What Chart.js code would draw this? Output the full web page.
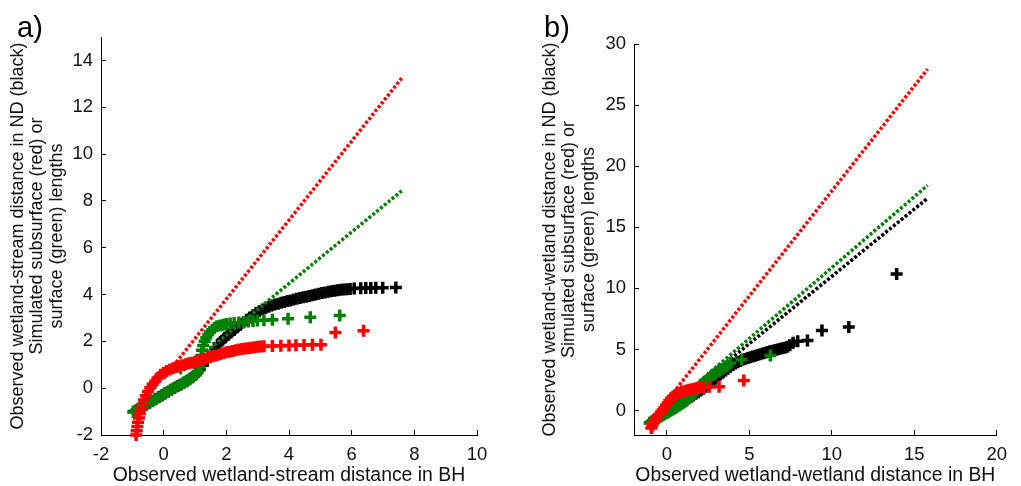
<!DOCTYPE html>
<html>
<head>
<meta charset="utf-8">
<script src="https://cdn.jsdelivr.net/npm/chart.js@4.4.1/dist/chart.umd.min.js"></script>
<style>
  body { margin: 0; background: #fff; }
  #wrap { position: relative; width: 1021px; height: 486px; font-family: "Liberation Sans", Arial, sans-serif; }
  canvas { position: absolute; top: 0; }
  #qqA { left: 0; }
  #qqB { left: 510px; }
  .tag { position: absolute; top: 12px; font-size: 29px; line-height: 30px; color: #000; }
</style>
</head>
<body>
<div id="wrap">
  <canvas id="qqA" width="510" height="486"></canvas>
  <canvas id="qqB" width="511" height="486"></canvas>
  <div class="tag" style="left:17px">a)</div>
  <div class="tag" style="left:544px">b)</div>
</div>
<script>
// ---- a) wetland-stream distances: BH quantiles (x) vs ND / simulated quantiles (y)
const aBlackX = [-0.95, -0.85, -0.75, -0.65, -0.55, -0.45, -0.35, -0.25, -0.15, -0.05,
  0.05, 0.15, 0.25, 0.35, 0.45, 0.55, 0.65, 0.75, 0.85, 0.95,
  1.05, 1.15, 1.25, 1.35, 1.45, 1.55, 1.65, 1.75, 1.85, 1.95,
  2.05, 2.15, 2.25, 2.35, 2.45, 2.55, 2.65, 2.75, 2.85, 2.95,
  3.05, 3.15, 3.25, 3.35, 3.45, 3.55, 3.65, 3.75, 3.85, 3.95,
  4.05, 4.15, 4.25, 4.35, 4.45, 4.55, 4.65, 4.75, 4.85, 4.95,
  5.05, 5.15, 5.25, 5.35, 5.45, 5.55, 5.65, 5.75, 5.85, 5.95,
  6.08, 6.29, 6.45, 6.61, 6.77, 6.99, 7.41];
const aBlackY = [-1.0, -0.93, -0.85, -0.78, -0.7, -0.62, -0.54, -0.46, -0.38, -0.3,
  -0.22, -0.14, -0.06, 0.02, 0.09, 0.16, 0.24, 0.32, 0.41, 0.51,
  0.64, 0.8, 0.98, 1.16, 1.34, 1.52, 1.71, 1.9, 2.03, 2.15,
  2.27, 2.38, 2.49, 2.6, 2.71, 2.82, 2.92, 3.02, 3.12, 3.21,
  3.29, 3.36, 3.42, 3.48, 3.53, 3.57, 3.61, 3.65, 3.68, 3.72,
  3.75, 3.79, 3.82, 3.85, 3.88, 3.91, 3.94, 3.97, 4.0, 4.03,
  4.06, 4.09, 4.12, 4.14, 4.16, 4.18, 4.2, 4.22, 4.23, 4.24,
  4.26, 4.27, 4.28, 4.28, 4.29, 4.29, 4.3];

const aGreenX = [-0.97, -0.88, -0.78, -0.68, -0.58, -0.48, -0.38, -0.28, -0.18, -0.08,
  0.02, 0.12, 0.22, 0.32, 0.42, 0.52, 0.62, 0.72, 0.82, 0.92,
  1.02, 1.1, 1.15, 1.18, 1.2, 1.22, 1.26, 1.31, 1.36, 1.42,
  1.48, 1.55, 1.62, 1.7, 1.8, 1.9, 2.0, 2.12, 2.25, 2.4,
  2.55, 2.7, 2.85, 2.99, 3.2, 3.47, 3.97, 4.68, 5.62];
const aGreenY = [-1.02, -0.95, -0.87, -0.8, -0.72, -0.64, -0.56, -0.48, -0.4, -0.32,
  -0.24, -0.16, -0.08, 0.0, 0.07, 0.14, 0.21, 0.29, 0.37, 0.46,
  0.56, 0.7, 0.9, 1.15, 1.4, 1.62, 1.82, 2.0, 2.15, 2.28,
  2.4, 2.5, 2.58, 2.64, 2.68, 2.71, 2.74, 2.76, 2.78, 2.81,
  2.83, 2.85, 2.87, 2.89, 2.9, 2.92, 2.97, 3.03, 3.1];

const aRedX = [-0.88, -0.86, -0.84, -0.82, -0.79, -0.76, -0.72, -0.68, -0.63, -0.57,
  -0.5, -0.43, -0.35, -0.27, -0.19, -0.1, 0, 0.1, 0.2,
  0.3, 0.4, 0.5, 0.6, 0.7, 0.8, 0.9, 1.0, 1.1, 1.2,
  1.3, 1.4, 1.5, 1.6, 1.7, 1.8, 1.9, 2.0, 2.1, 2.2,
  2.3, 2.4, 2.5, 2.6, 2.7, 2.8, 2.9, 3.0, 3.1,
  3.2, 3.47, 3.74, 4.0, 4.22, 4.48, 4.75, 5.02, 5.48, 6.38];
const aRedY = [-2.0, -1.82, -1.64, -1.46, -1.27, -1.08, -0.89, -0.7, -0.5, -0.32,
  -0.14, 0.02, 0.17, 0.3, 0.44, 0.57, 0.66, 0.73, 0.8,
  0.85, 0.9, 0.94, 0.98, 1.02, 1.06, 1.09, 1.13, 1.17, 1.21,
  1.25, 1.29, 1.33, 1.37, 1.41, 1.45, 1.49, 1.53, 1.56, 1.59,
  1.62, 1.65, 1.67, 1.69, 1.71, 1.73, 1.75, 1.77, 1.78,
  1.79, 1.8, 1.81, 1.82, 1.83, 1.84, 1.85, 1.86, 2.38, 2.45];

// fitted reference lines (end points)
const aRedLineX = [0, 7.6];
const aRedLineY = [0.43, 13.25];
const aGreenLineX = [0.5, 7.6];
const aGreenLineY = [0.62, 8.43];

const aTicksX = [-2, 0, 2, 4, 6, 8, 10];
const aTicksY = [-2, 0, 2, 4, 6, 8, 10, 12, 14];

// ---- b) wetland-wetland distances
const bBlackX = [-1.0, -0.9, -0.8, -0.7, -0.6, -0.5, -0.4, -0.3, -0.2, -0.1,
  0.0, 0.1, 0.2, 0.3, 0.4, 0.5, 0.6, 0.7, 0.8, 0.9,
  1.0, 1.15, 1.3, 1.45, 1.6, 1.75, 1.9, 2.05, 2.2, 2.35,
  2.5, 2.65, 2.8, 2.95, 3.1, 3.25, 3.4, 3.55, 3.7, 3.85,
  4.0, 4.15, 4.3, 4.45, 4.6, 4.75, 4.9, 5.05, 5.2, 5.35,
  5.5, 5.65, 5.8, 5.95, 6.1, 6.25, 6.4, 6.55, 6.7, 6.85,
  7.0, 7.15, 7.3, 7.45, 7.65, 7.93, 8.52, 9.4, 11.03, 13.93];
const bBlackY = [-1.0, -0.9, -0.8, -0.7, -0.6, -0.5, -0.4, -0.3, -0.2, -0.12,
  -0.04, 0.04, 0.12, 0.2, 0.28, 0.36, 0.44, 0.52, 0.6, 0.68,
  0.76, 0.88, 1.0, 1.12, 1.24, 1.37, 1.5, 1.64, 1.79, 1.95,
  2.11, 2.28, 2.45, 2.62, 2.79, 2.96, 3.12, 3.28, 3.43, 3.58,
  3.72, 3.85, 3.96, 4.06, 4.15, 4.23, 4.3, 4.37, 4.43, 4.49,
  4.55, 4.61, 4.67, 4.73, 4.79, 4.85, 4.9, 4.95, 5.0, 5.05,
  5.1, 5.15, 5.22, 5.35, 5.55, 5.68, 5.74, 6.55, 6.83, 11.18];

const bGreenX = [-1.05, -0.95, -0.85, -0.75, -0.65, -0.55, -0.45, -0.35, -0.25, -0.15,
  -0.05, 0.05, 0.15, 0.25, 0.35, 0.45, 0.55, 0.65, 0.75, 0.85,
  0.95, 1.05, 1.15, 1.25, 1.35, 1.45, 1.55, 1.65, 1.75, 1.85,
  1.95, 2.05, 2.15, 2.25, 2.35, 2.45, 2.55, 2.65, 2.75, 2.85,
  2.95, 3.05, 3.15, 3.25, 3.35, 3.5, 3.65, 3.84, 4.52, 6.27];
const bGreenY = [-1.02, -0.94, -0.86, -0.78, -0.7, -0.62, -0.54, -0.46, -0.38, -0.3,
  -0.22, -0.15, -0.08, 0.0, 0.08, 0.16, 0.24, 0.33, 0.42, 0.51,
  0.6, 0.69, 0.79, 0.9, 1.02, 1.15, 1.29, 1.43, 1.58, 1.74,
  1.9, 2.04, 2.17, 2.3, 2.42, 2.54, 2.66, 2.77, 2.88, 2.98,
  3.08, 3.17, 3.26, 3.34, 3.42, 3.52, 3.64, 3.9, 4.18, 4.51];

const bRedX = [-0.95, -0.88, -0.8, -0.72, -0.64, -0.55, -0.46, -0.36, -0.26, -0.16,
  -0.06, 0.04, 0.14, 0.25, 0.36, 0.48, 0.6, 0.74, 0.88, 1.02,
  1.18, 1.34, 1.5, 1.68, 1.86, 2.05, 2.25, 2.57, 3.16, 4.66];
const bRedY = [-1.42, -1.2, -0.98, -0.8, -0.62, -0.45, -0.3, -0.12, 0.05, 0.22,
  0.43, 0.62, 0.82, 1.0, 1.13, 1.26, 1.36, 1.45, 1.52, 1.58,
  1.64, 1.7, 1.75, 1.8, 1.85, 1.88, 1.91, 1.94, 1.95, 2.47];

const bRedLineX = [0, 15.81];
const bRedLineY = [0.8, 27.95];
const bGreenLineX = [1.5, 15.81];
const bGreenLineY = [1.84, 18.44];
const bBlackLineX = [1.5, 15.81];
const bBlackLineY = [1.63, 17.38];

const bTicksX = [0, 5, 10, 15, 20];
const bTicksY = [0, 5, 10, 15, 20, 25, 30];

const FONT = '"Liberation Sans", Arial, sans-serif';
const RED = '#ff0000', GREEN = '#008000', BLACK = '#000000';

const pts = (xs, ys) => xs.map((x, i) => ({ x: x, y: ys[i] }));

// plus-sign markers for the quantile pairs
function marks(xs, ys, color, order) {
  return {
    data: pts(xs, ys), order: order, clip: false,
    pointStyle: 'cross', pointRadius: 6, pointHoverRadius: 6,
    pointBorderWidth: 3.5, pointHoverBorderWidth: 3.5,
    borderColor: color, backgroundColor: color
  };
}

// dotted straight line through two end points
function refLine(xs, ys, color, order) {
  return {
    data: pts(xs, ys), order: order, showLine: true,
    borderColor: color, borderWidth: 3.5, borderDash: [3, 2],
    pointRadius: 0, pointHoverRadius: 0
  };
}

function qqChart(id, o) {
  const tickFont = { family: FONT, size: 18.5 };
  const gridOpts = { drawOnChartArea: false, drawTicks: true, tickLength: -5, color: '#000', tickColor: '#000', lineWidth: 1 };
  const borderOpts = { display: true, color: '#000', width: 1 };
  return new Chart(document.getElementById(id), {
    type: 'scatter',
    data: { datasets: o.datasets },
    options: {
      responsive: false,
      animation: false,
      events: [],
      layout: { padding: o.padding },
      plugins: { legend: { display: false }, tooltip: { enabled: false } },
      scales: {
        x: {
          type: 'linear', min: o.xMin, max: o.xMax,
          afterBuildTicks: s => { s.ticks = o.xTicks.map(v => ({ value: v })); },
          afterFit: s => { s.height = 51; },
          ticks: { color: '#111', font: tickFont, padding: 14, maxRotation: 0, autoSkip: false },
          grid: gridOpts,
          border: borderOpts,
          title: {
            display: true, text: o.xTitle, color: '#111',
            font: { family: FONT, size: 19.4, lineHeight: 1 },
            padding: { top: 0, bottom: 1 }
          }
        },
        y: {
          type: 'linear', min: o.yMin, max: o.yMax,
          afterBuildTicks: s => { s.ticks = o.yTicks.map(v => ({ value: v })); },
          afterFit: s => { s.width = o.yWidth; },
          ticks: { color: '#111', font: tickFont, padding: 13, autoSkip: false },
          grid: gridOpts,
          border: borderOpts,
          title: {
            display: true, text: o.yTitle, color: '#111',
            font: { family: FONT, size: 18, lineHeight: 1.08 },
            padding: { top: o.yTitlePad, bottom: 0 }
          }
        }
      }
    }
  });
}

qqChart('qqA', {
  padding: { left: 0, top: 37, right: 33, bottom: 0 },
  yWidth: 101, yTitlePad: 8.3,
  xMin: -2, xMax: 10, yMin: -2, yMax: 15,
  xTicks: aTicksX, yTicks: aTicksY,
  xTitle: 'Observed wetland-stream distance in BH',
  yTitle: ['Observed wetland-stream distance in ND (black)', 'Simulated subsurface (red) or', 'surface (green) lengths'],
  datasets: [
    refLine(aRedLineX, aRedLineY, RED, 0),
    marks(aRedX, aRedY, RED, 1),
    refLine(aGreenLineX, aGreenLineY, GREEN, 2),
    marks(aGreenX, aGreenY, GREEN, 3),
    marks(aBlackX, aBlackY, BLACK, 5)
  ]
});

qqChart('qqB', {
  padding: { left: 0, top: 44, right: 12, bottom: 0 },
  yWidth: 124, yTitlePad: 30.3,
  xMin: -2, xMax: 20, yMin: -2, yMax: 30,
  xTicks: bTicksX, yTicks: bTicksY,
  xTitle: 'Observed wetland-wetland distance in BH',
  yTitle: ['Observed wetland-wetland distance in ND (black)', 'Simulated subsurface (red) or', 'surface (green) lengths'],
  datasets: [
    refLine(bRedLineX, bRedLineY, RED, 0),
    marks(bRedX, bRedY, RED, 1),
    refLine(bGreenLineX, bGreenLineY, GREEN, 2),
    marks(bGreenX, bGreenY, GREEN, 3),
    refLine(bBlackLineX, bBlackLineY, BLACK, 4),
    marks(bBlackX, bBlackY, BLACK, 5)
  ]
});
</script>
</body>
</html>
